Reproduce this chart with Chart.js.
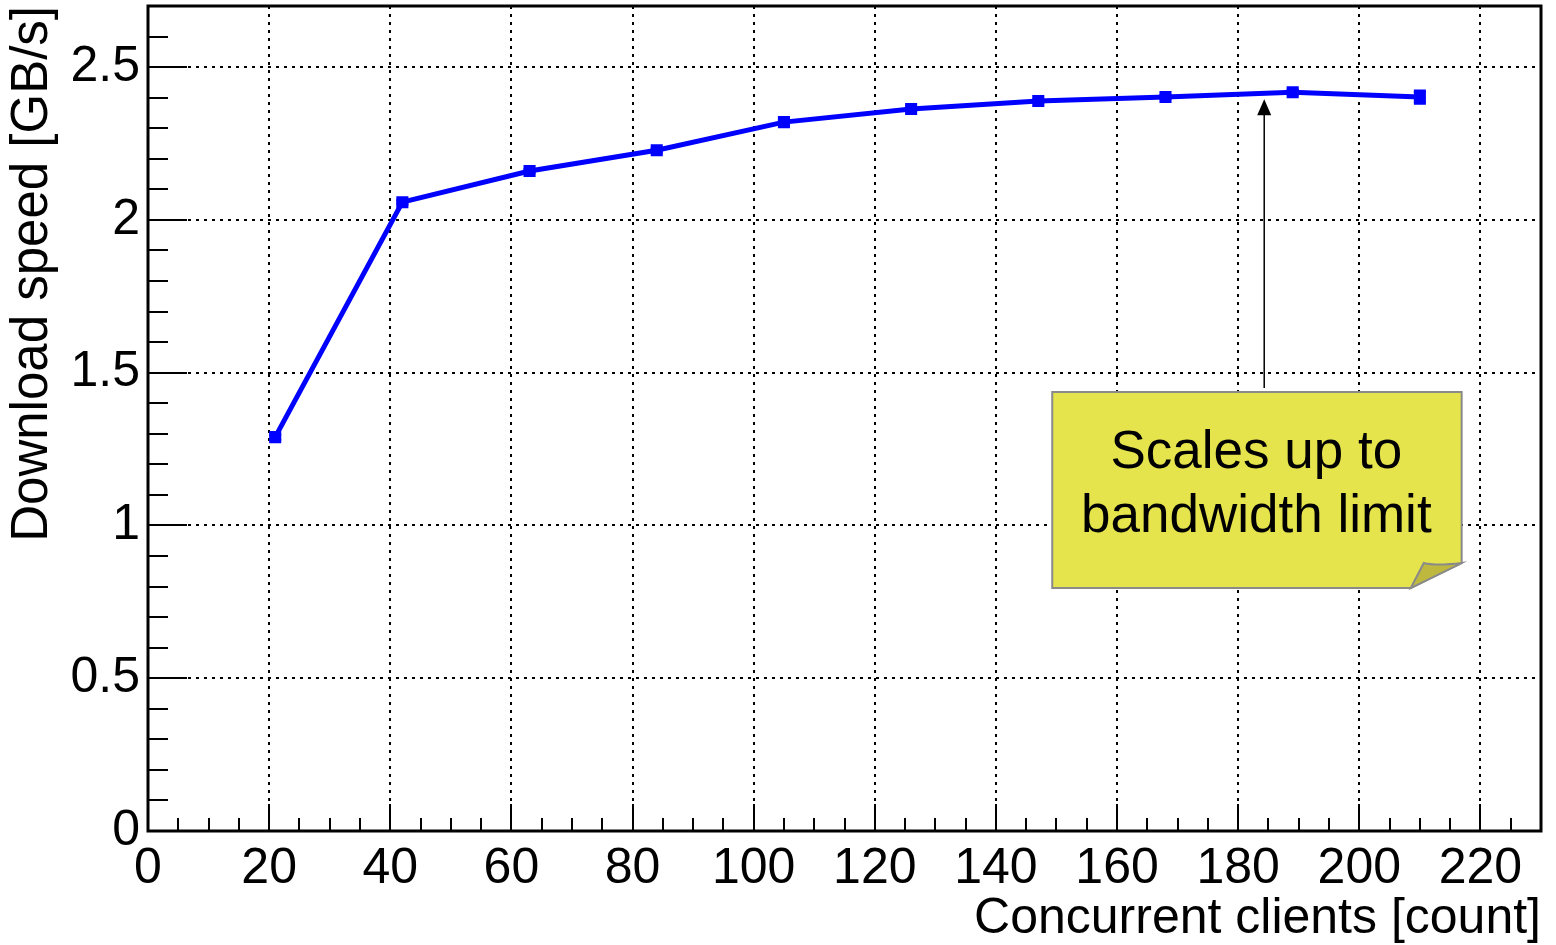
<!DOCTYPE html>
<html>
<head>
<meta charset="utf-8">
<script src="https://cdn.jsdelivr.net/npm/chart.js"></script>
<style>
  body { margin: 0; background: #fff; }
</style>
</head>
<body>
<canvas id="speed-chart" width="1556" height="945"></canvas>
<script>
// measured points
const clients = [21, 42, 63, 84, 105, 126, 147, 168, 189, 210];
const speeds = [1.289, 2.058, 2.160, 2.228, 2.320, 2.363, 2.389, 2.402, 2.418, 2.402];
const speedErrors = [0.008, 0.006, 0.005, 0.006, 0.004, 0.004, 0.004, 0.004, 0.006, 0.02];
const noteLines = ["Scales up to", "bandwidth limit"];

const FONT = "'Liberation Sans', Arial, sans-serif";

// ROOT style frame: inside ticks, thick border, error bars, sticky note
const rootStyle = {
  id: 'rootStyle',
  afterDatasetsDraw(chart) {
    const ctx = chart.ctx, x = chart.scales.x, y = chart.scales.y;
    ctx.save();
    ctx.strokeStyle = '#0000ff';
    ctx.lineWidth = 3;
    clients.forEach((c, i) => {
      const px = x.getPixelForValue(c);
      const top = y.getPixelForValue(speeds[i] + speedErrors[i]);
      const bot = y.getPixelForValue(speeds[i] - speedErrors[i]);
      ctx.beginPath();
      ctx.moveTo(px, top); ctx.lineTo(px, bot);
      ctx.moveTo(px - 6, top); ctx.lineTo(px + 6, top);
      ctx.moveTo(px - 6, bot); ctx.lineTo(px + 6, bot);
      ctx.stroke();
    });
    ctx.restore();
  },
  afterDraw(chart) {
    const ctx = chart.ctx, a = chart.chartArea, x = chart.scales.x, y = chart.scales.y;
    ctx.save();
    ctx.strokeStyle = '#000';
    ctx.lineWidth = 2;
    ctx.beginPath();
    for (let v = 0; v <= 2.7001; v += 0.1) {
      const py = Math.round(y.getPixelForValue(v));
      const major = Math.abs(v / 0.5 - Math.round(v / 0.5)) < 1e-6;
      ctx.moveTo(a.left, py); ctx.lineTo(a.left + (major ? 39 : 20), py);
    }
    for (let v = 0; v <= 230; v += 5) {
      const px = Math.round(x.getPixelForValue(v));
      ctx.moveTo(px, a.bottom); ctx.lineTo(px, a.bottom - (v % 20 === 0 ? 27 : 13));
    }
    ctx.stroke();
    ctx.lineWidth = 3;
    ctx.strokeRect(a.left, a.top, a.right - a.left, a.bottom - a.top);

    // arrow
    const ax = x.getPixelForValue(184.3);
    const tip = y.getPixelForValue(2.395), tail = y.getPixelForValue(1.45);
    ctx.lineWidth = 1.5;
    ctx.beginPath(); ctx.moveTo(ax, tail); ctx.lineTo(ax, tip + 14); ctx.stroke();
    ctx.fillStyle = '#000';
    ctx.beginPath();
    ctx.moveTo(ax, tip); ctx.lineTo(ax - 7, tip + 16); ctx.lineTo(ax + 7, tip + 16);
    ctx.closePath(); ctx.fill();

    // sticky note
    const l = x.getPixelForValue(149.3), r = x.getPixelForValue(216.9);
    const t = y.getPixelForValue(1.437), b = y.getPixelForValue(0.795);
    const fx = x.getPixelForValue(208.5), fy = y.getPixelForValue(0.877);
    ctx.fillStyle = '#e6e44c';
    ctx.strokeStyle = '#8a8a8a';
    ctx.lineWidth = 2;
    ctx.beginPath();
    ctx.moveTo(l, t); ctx.lineTo(r, t); ctx.lineTo(r, fy); ctx.lineTo(fx, b); ctx.lineTo(l, b);
    ctx.closePath(); ctx.fill(); ctx.stroke();
    ctx.fillStyle = '#beb83f';
    ctx.beginPath();
    ctx.moveTo(fx, b); ctx.lineTo(fx + 13, fy); ctx.quadraticCurveTo(fx + 25, fy + 3, r, fy);
    ctx.closePath(); ctx.fill(); ctx.stroke();

    ctx.fillStyle = '#000';
    ctx.font = '53px ' + FONT;
    ctx.textAlign = 'center';
    ctx.textBaseline = 'alphabetic';
    const cx = x.getPixelForValue(183.0);
    ctx.fillText(noteLines[0], cx, y.getPixelForValue(1.188));
    ctx.fillText(noteLines[1], cx, y.getPixelForValue(0.978));
    ctx.restore();
  }
};

new Chart(document.getElementById('speed-chart'), {
  type: 'scatter',
  data: {
    datasets: [{
      data: clients.map((c, i) => ({ x: c, y: speeds[i] })),
      showLine: true,
      borderColor: '#0000ff',
      backgroundColor: '#0000ff',
      borderWidth: 5,
      pointStyle: 'rect',
      pointRadius: 5,
      pointHoverRadius: 5
    }]
  },
  options: {
    responsive: false,
    animation: false,
    events: [],
    layout: { autoPadding: false, padding: { top: 6, right: 15, left: 0, bottom: 0 } },
    plugins: { legend: { display: false }, tooltip: { enabled: false } },
    scales: {
      x: {
        type: 'linear', min: 0, max: 230,
        afterFit: s => { s.height = 114; s.paddingLeft = 0; s.paddingRight = 0; },
        grid: { color: '#000', lineWidth: 2, drawTicks: false },
        border: { display: false, dash: [3, 5] },
        ticks: { stepSize: 20, includeBounds: false, padding: 8, color: '#000',
                 font: { family: FONT, size: 50 } },
        title: { display: true, text: 'Concurrent clients [count]', align: 'end', color: '#000',
                 font: { family: FONT, size: 50, lineHeight: 1.04 }, padding: { top: 0, bottom: 0 } }
      },
      y: {
        type: 'linear', min: 0, max: 2.7,
        afterFit: s => { s.width = 148; s.paddingTop = 0; s.paddingBottom = 0; },
        grid: { color: '#000', lineWidth: 2, drawTicks: false },
        border: { display: false, dash: [3, 5] },
        ticks: { stepSize: 0.5, includeBounds: false, padding: 8, color: '#000',
                 font: { family: FONT, size: 50 }, callback: v => String(v) },
        title: { display: true, text: 'Download speed [GB/s]', align: 'end', color: '#000',
                 font: { family: FONT, size: 51, lineHeight: 1.1 }, padding: { top: 5, bottom: 0 } }
      }
    }
  },
  plugins: [rootStyle]
});
</script>
</body>
</html>
